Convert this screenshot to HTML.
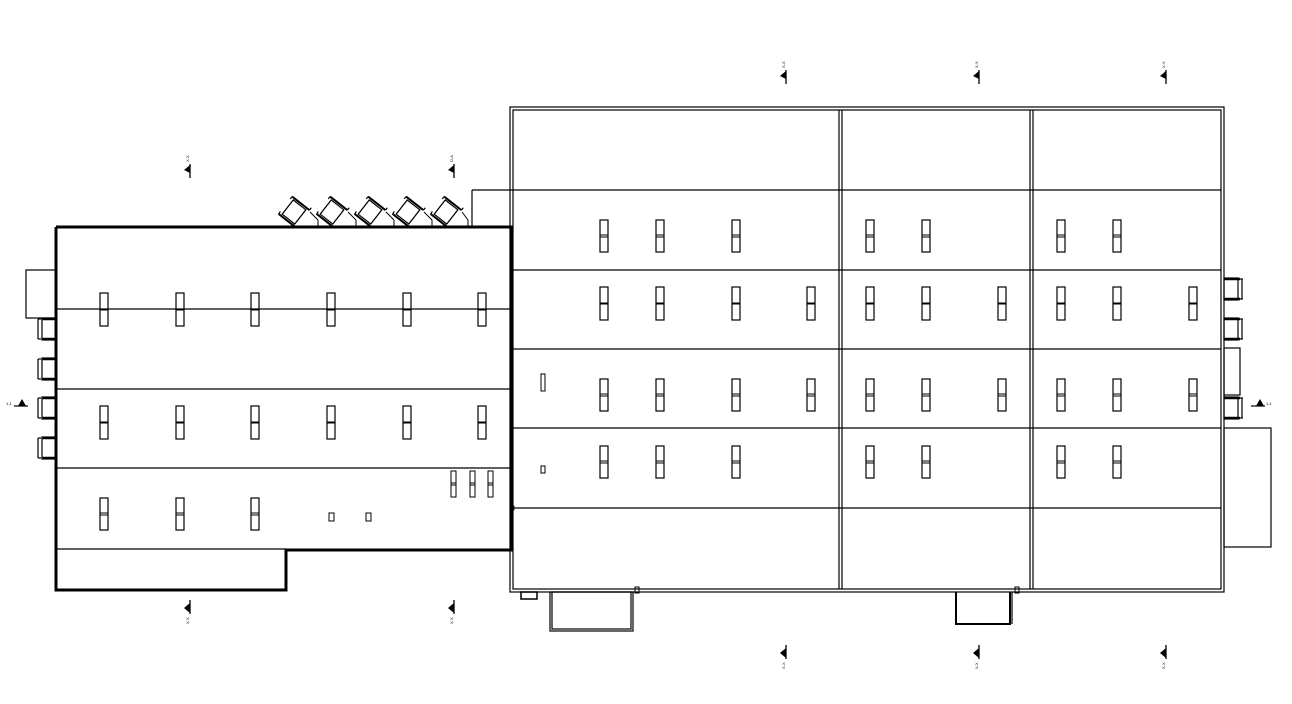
<!DOCTYPE html>
<html><head><meta charset="utf-8"><style>
html,body{margin:0;padding:0;background:#fff;}
svg{display:block}
text{font-family:"Liberation Sans",sans-serif;font-size:4px;fill:#000}
</style></head><body>
<svg width="1292" height="704" viewBox="0 0 1292 704" xmlns="http://www.w3.org/2000/svg">
<defs>
<g id="sk"><rect x="-4" y="0" width="8" height="33" fill="none" stroke="#000" stroke-width="1.2"/><line x1="-4" y1="16.5" x2="4" y2="16.5" stroke="#000" stroke-width="2"/></g>
<g id="skr"><rect x="-4" y="0" width="8" height="32" fill="none" stroke="#000" stroke-width="1.2"/><line x1="-4" y1="15" x2="4" y2="15" stroke="#000" stroke-width="1"/><line x1="-4" y1="17" x2="4" y2="17" stroke="#000" stroke-width="1"/></g>
<g id="dockL" fill="none" stroke="#000" stroke-width="1.2"><rect x="42" y="0" width="14" height="22"/><line x1="42" y1="1" x2="56" y2="1" stroke-width="2.5"/><line x1="42" y1="21" x2="56" y2="21" stroke-width="2.5"/><line x1="38" y1="1" x2="38" y2="21"/><line x1="38" y1="1" x2="41" y2="1"/><line x1="38" y1="21" x2="41" y2="21"/></g>
<g id="dockR" fill="none" stroke="#000" stroke-width="1.2"><rect x="1224" y="0" width="14" height="22"/><line x1="1224" y1="1" x2="1240" y2="1" stroke-width="2.5"/><line x1="1224" y1="21" x2="1240" y2="21" stroke-width="2.5"/><line x1="1242" y1="1" x2="1242" y2="21"/><line x1="1240" y1="1" x2="1243" y2="1"/><line x1="1240" y1="21" x2="1243" y2="21"/></g>
<g id="dockA" fill="none" stroke="#000" stroke-width="1.2"><rect x="-8" y="-9" width="16" height="18"/><line x1="-11" y1="-11" x2="11" y2="-11" stroke-width="2"/><line x1="-11" y1="11" x2="11" y2="11" stroke-width="2"/><line x1="-11" y1="-11" x2="-11" y2="-8"/><line x1="-11" y1="11" x2="-11" y2="8"/><line x1="11" y1="-11" x2="11" y2="-14"/></g>
<g id="mkT"><polygon points="-6,6 0,1 0,9" fill="#000"/><line x1="0" y1="0" x2="0" y2="14" stroke="#000" stroke-width="1.3"/></g>
<g id="mkB"><polygon points="-6,8 0,3 0,13" fill="#000"/><line x1="0" y1="0" x2="0" y2="14" stroke="#000" stroke-width="1.3"/></g>
</defs>

<!-- LEFT BUILDING -->
<g fill="none" stroke="#000">
<polyline points="56,227 511,227 511,550 286,550 286,590 56,590 56,227" stroke-width="3"/>
<line x1="56" y1="309" x2="511" y2="309" stroke-width="1.2"/>
<line x1="56" y1="389" x2="511" y2="389" stroke-width="1.2"/>
<line x1="56" y1="468" x2="511" y2="468" stroke-width="1.2"/>
<line x1="56" y1="549" x2="286" y2="549" stroke-width="1.2"/>
<rect x="26" y="270" width="30" height="48" stroke-width="1.2"/>
<rect x="329" y="513" width="5" height="8" stroke-width="1"/>
<rect x="366" y="513" width="5" height="8" stroke-width="1"/>
</g>
<use href="#dockL" y="318"/><use href="#dockL" y="358"/><use href="#dockL" y="397"/><use href="#dockL" y="437"/>
<g>
<use href="#sk" x="104" y="293"/><use href="#sk" x="180" y="293"/><use href="#sk" x="255" y="293"/><use href="#sk" x="331" y="293"/><use href="#sk" x="407" y="293"/><use href="#sk" x="482" y="293"/>
<use href="#sk" x="104" y="406"/><use href="#sk" x="180" y="406"/><use href="#sk" x="255" y="406"/><use href="#sk" x="331" y="406"/><use href="#sk" x="407" y="406"/><use href="#sk" x="482" y="406"/>
<use href="#skr" x="104" y="498"/><use href="#skr" x="180" y="498"/><use href="#skr" x="255" y="498"/>
</g>
<g fill="none" stroke="#000" stroke-width="1">
<rect x="451" y="471" width="5" height="26"/><line x1="451" y1="483" x2="456" y2="483"/><line x1="451" y1="485" x2="456" y2="485"/>
<rect x="470" y="471" width="5" height="26"/><line x1="470" y1="483" x2="475" y2="483"/><line x1="470" y1="485" x2="475" y2="485"/>
<rect x="488" y="471" width="5" height="26"/><line x1="488" y1="483" x2="493" y2="483"/><line x1="488" y1="485" x2="493" y2="485"/>
</g>
<!-- angled docks -->
<g>
<use href="#dockA" transform="translate(294,212) rotate(38)"/>
<use href="#dockA" transform="translate(332,212) rotate(38)"/>
<use href="#dockA" transform="translate(370,212) rotate(38)"/>
<use href="#dockA" transform="translate(408,212) rotate(38)"/>
<use href="#dockA" transform="translate(446,212) rotate(38)"/>
</g>
<g stroke="#000" stroke-width="1">
<line x1="310" y1="212" x2="318" y2="220"/><line x1="318" y1="220" x2="318" y2="227"/>
<line x1="348" y1="212" x2="356" y2="220"/><line x1="356" y1="220" x2="356" y2="227"/>
<line x1="386" y1="212" x2="394" y2="220"/><line x1="394" y1="220" x2="394" y2="227"/>
<line x1="424" y1="212" x2="432" y2="220"/><line x1="432" y1="220" x2="432" y2="227"/>
<line x1="462" y1="212" x2="468" y2="220"/><line x1="468" y1="220" x2="468" y2="227"/>
</g>

<!-- RIGHT BUILDING -->
<g fill="none" stroke="#000" stroke-width="1.2">
<rect x="510" y="107" width="714" height="485"/>
<rect x="513" y="110" width="708" height="479"/>
<line x1="839" y1="110" x2="839" y2="589"/><line x1="842" y1="110" x2="842" y2="589"/>
<line x1="1030" y1="110" x2="1030" y2="589"/><line x1="1033" y1="110" x2="1033" y2="589"/>
<line x1="472" y1="190" x2="1221" y2="190"/>
<line x1="472" y1="190" x2="472" y2="227"/>
<line x1="513" y1="270" x2="1221" y2="270"/>
<line x1="513" y1="349" x2="1221" y2="349"/>
<line x1="513" y1="428" x2="1221" y2="428"/>
<line x1="513" y1="508" x2="1221" y2="508"/>
<rect x="1224" y="428" width="47" height="119"/>
<rect x="1224" y="348" width="16" height="47"/>
<rect x="521" y="592" width="16" height="7" stroke-width="1.5"/>
<rect x="550" y="592" width="83" height="39"/>
<rect x="552" y="592" width="79" height="37"/>
<polyline points="956,592 956,624 1010,624 1010,592" stroke-width="2"/>
<line x1="1012" y1="592" x2="1012" y2="624"/>
<rect x="635" y="587" width="4" height="6" stroke-width="1"/>
<rect x="1015" y="587" width="4" height="6" stroke-width="1"/>
<rect x="511" y="506" width="3" height="4" stroke-width="0.8"/>
<rect x="541" y="374" width="4" height="17" stroke-width="1"/>
<rect x="541" y="466" width="4" height="7" stroke-width="1"/>
</g>
<use href="#dockR" y="278"/><use href="#dockR" y="318"/><use href="#dockR" y="397"/>
<g>
<use href="#skr" x="604" y="220"/><use href="#skr" x="660" y="220"/><use href="#skr" x="736" y="220"/>
<use href="#skr" x="870" y="220"/><use href="#skr" x="926" y="220"/>
<use href="#skr" x="1061" y="220"/><use href="#skr" x="1117" y="220"/>

<use href="#sk" x="604" y="287"/><use href="#sk" x="660" y="287"/><use href="#sk" x="736" y="287"/><use href="#sk" x="811" y="287"/>
<use href="#sk" x="870" y="287"/><use href="#sk" x="926" y="287"/><use href="#sk" x="1002" y="287"/>
<use href="#sk" x="1061" y="287"/><use href="#sk" x="1117" y="287"/><use href="#sk" x="1193" y="287"/>

<use href="#skr" x="604" y="379"/><use href="#skr" x="660" y="379"/><use href="#skr" x="736" y="379"/><use href="#skr" x="811" y="379"/>
<use href="#skr" x="870" y="379"/><use href="#skr" x="926" y="379"/><use href="#skr" x="1002" y="379"/>
<use href="#skr" x="1061" y="379"/><use href="#skr" x="1117" y="379"/><use href="#skr" x="1193" y="379"/>

<use href="#skr" x="604" y="446"/><use href="#skr" x="660" y="446"/><use href="#skr" x="736" y="446"/>
<use href="#skr" x="870" y="446"/><use href="#skr" x="926" y="446"/>
<use href="#skr" x="1061" y="446"/><use href="#skr" x="1117" y="446"/>
</g>

<!-- markers -->
<use href="#mkT" x="786" y="70"/><text transform="translate(785,68) rotate(-90)">X-X</text>
<use href="#mkT" x="979" y="70"/><text transform="translate(978,68) rotate(-90)">X-X</text>
<use href="#mkT" x="1166" y="70"/><text transform="translate(1165,68) rotate(-90)">X-X</text>
<use href="#mkT" x="190" y="164"/><text transform="translate(189,162) rotate(-90)">X-X</text>
<use href="#mkT" x="454" y="164"/><text transform="translate(453,162) rotate(-90)">D-A</text>
<use href="#mkB" x="190" y="600"/><text transform="translate(189,624) rotate(-90)">X-X</text>
<use href="#mkB" x="454" y="600"/><text transform="translate(453,624) rotate(-90)">X-X</text>
<use href="#mkB" x="786" y="645"/><text transform="translate(785,669) rotate(-90)">X-X</text>
<use href="#mkB" x="979" y="645"/><text transform="translate(978,669) rotate(-90)">X-X</text>
<use href="#mkB" x="1166" y="645"/><text transform="translate(1165,669) rotate(-90)">X-X</text>
<g>
<polygon points="18,406 22,399 26,406" fill="#000"/><line x1="14" y1="406" x2="28" y2="406" stroke="#000" stroke-width="1.2"/><text x="6" y="405">1-1</text>
<polygon points="1256,406 1260,399 1264,406" fill="#000"/><line x1="1251" y1="406" x2="1265" y2="406" stroke="#000" stroke-width="1.2"/><text x="1266" y="405">1-1</text>
</g>
</svg>
</body></html>
